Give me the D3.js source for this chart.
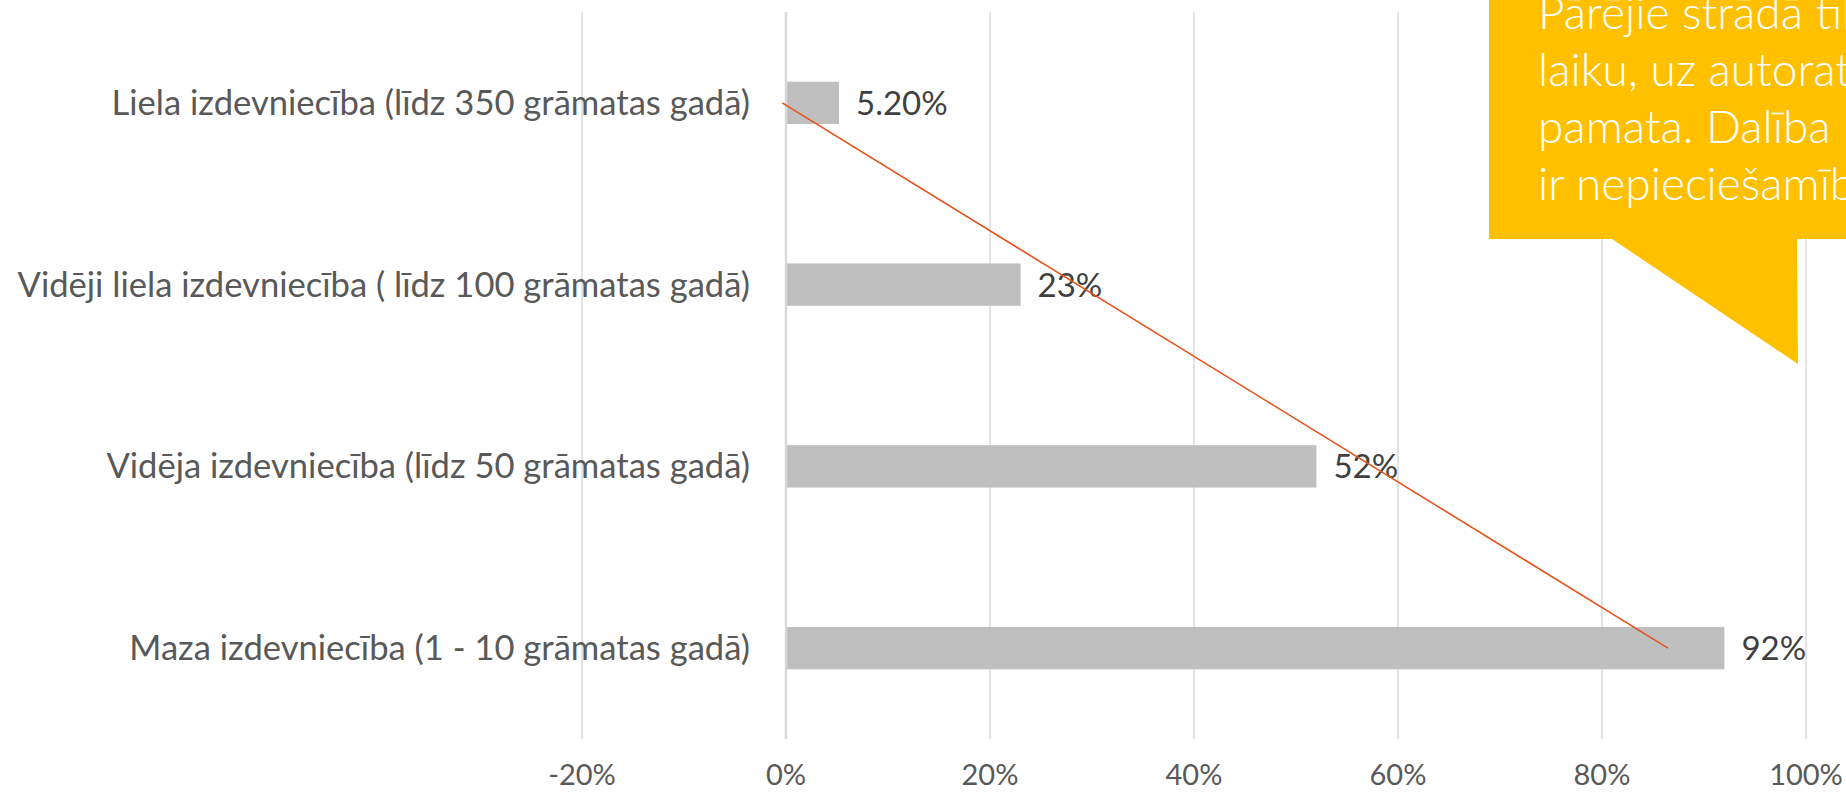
<!doctype html>
<html>
<head>
<meta charset="utf-8">
<style>
  body { margin: 0; background: #fff; }
  svg { display: block; font-family: Lato, "Open Sans", sans-serif; }
  .grid line { stroke: #d0d0d0; stroke-width: 1.2; }
  .cat { fill: #595959; font-size: 34.6px; }
  .tick-label { fill: #595959; font-size: 29px; }
  .val { fill: #404040; font-size: 33px; }
  .note { fill: #fff; font-size: 46px; font-weight: 300; }
</style>
<script src="https://d3js.org/d3.v7.min.js"></script>
</head>
<body>
<svg id="chart" width="1846" height="792"></svg>
<script>
// data (top to bottom as drawn)
var categories = [
  "Liela izdevniecība (līdz 350 grāmatas gadā)",
  "Vidēji liela izdevniecība ( līdz 100 grāmatas gadā)",
  "Vidēja izdevniecība (līdz 50 grāmatas gadā)",
  "Maza izdevniecība (1 - 10 grāmatas gadā)"
];
var values = [0.052, 0.23, 0.52, 0.92];
var valueLabels = ["5.20%", "23%", "52%", "92%"];
var xTicks = [-0.2, 0, 0.2, 0.4, 0.6, 0.8, 1.0];
var noteLines = [
  "Pārējie strādā tikai brīvajā",
  "laiku, uz autoratlīdzības",
  "pamata. Dalība projektos",
  "ir nepieciešamība."
];

var svg = d3.select("#chart");

var x = d3.scaleLinear().domain([-0.2, 1.0]).range([582, 1806]);
var y = d3.scaleBand().domain(categories).range([12, 739])
    .paddingInner(0.767).paddingOuter(0.3835);

// gridlines
var grid = svg.append("g").attr("class", "grid");
grid.selectAll("line")
  .data(xTicks.filter(function(d) { return d !== 0; }))
  .enter().append("line")
  .attr("x1", function(d) { return x(d); })
  .attr("x2", function(d) { return x(d); })
  .attr("y1", 12).attr("y2", 739);

// bars
svg.append("g").selectAll("rect")
  .data(values)
  .enter().append("rect")
  .attr("x", x(0))
  .attr("y", function(d, i) { return y(categories[i]); })
  .attr("width", function(d) { return x(d) - x(0); })
  .attr("height", y.bandwidth())
  .attr("fill", "#bfbfbf");

// vertical axis line at 0
svg.append("line")
  .attr("x1", x(0)).attr("x2", x(0))
  .attr("y1", 12).attr("y2", 739)
  .attr("stroke", "#d9d9d9").attr("stroke-width", 2.5);

// category labels
svg.append("g").selectAll("text")
  .data(categories)
  .enter().append("text")
  .attr("class", "cat")
  .attr("x", x(0) - 36)
  .attr("y", function(d) { return y(d) + y.bandwidth() / 2; })
  .attr("dy", "0.35em")
  .attr("text-anchor", "end")
  .text(function(d) { return d; });

// tick labels (plain hyphen for negatives, like the original)
svg.append("g").selectAll("text")
  .data(xTicks)
  .enter().append("text")
  .attr("class", "tick-label")
  .attr("x", function(d) { return x(d); })
  .attr("y", 785)
  .attr("text-anchor", "middle")
  .text(function(d) { return Math.round(d * 100) + "%"; });

// data labels
svg.append("g").selectAll("text")
  .data(values)
  .enter().append("text")
  .attr("class", "val")
  .attr("x", function(d) { return x(d) + 17; })
  .attr("y", function(d, i) { return y(categories[i]) + y.bandwidth() / 2; })
  .attr("dy", "0.36em")
  .text(function(d, i) { return valueLabels[i]; });

// linear trendline (Excel style: x = 1..n from bottom category)
var pts = values.map(function(v, i) { return [values.length - i, v]; });
var mx = d3.mean(pts, function(p) { return p[0]; });
var my = d3.mean(pts, function(p) { return p[1]; });
var slope = d3.sum(pts, function(p) { return (p[0] - mx) * (p[1] - my); }) /
            d3.sum(pts, function(p) { return (p[0] - mx) * (p[0] - mx); });
var icpt = my - slope * mx;
var trend = [categories.length - 1, 0].map(function(i) {
  var k = values.length - i;
  return [x(icpt + slope * k), y(categories[i]) + y.bandwidth() / 2];
});
svg.append("path")
  .attr("d", d3.line()(trend))
  .attr("fill", "none")
  .attr("stroke", "#e6541c")
  .attr("stroke-width", 1.6);

// callout
svg.append("path")
  .attr("d", "M1489,-10 H1860 V239 H1797 L1798,364 L1612,239 H1489 Z")
  .attr("fill", "#ffc000");

svg.append("g").selectAll("text")
  .data(noteLines)
  .enter().append("text")
  .attr("class", "note")
  .attr("x", 1538)
  .attr("y", function(d, i) { return 29 + i * 57; })
  .text(function(d) { return d; });
</script>
</body>
</html>
